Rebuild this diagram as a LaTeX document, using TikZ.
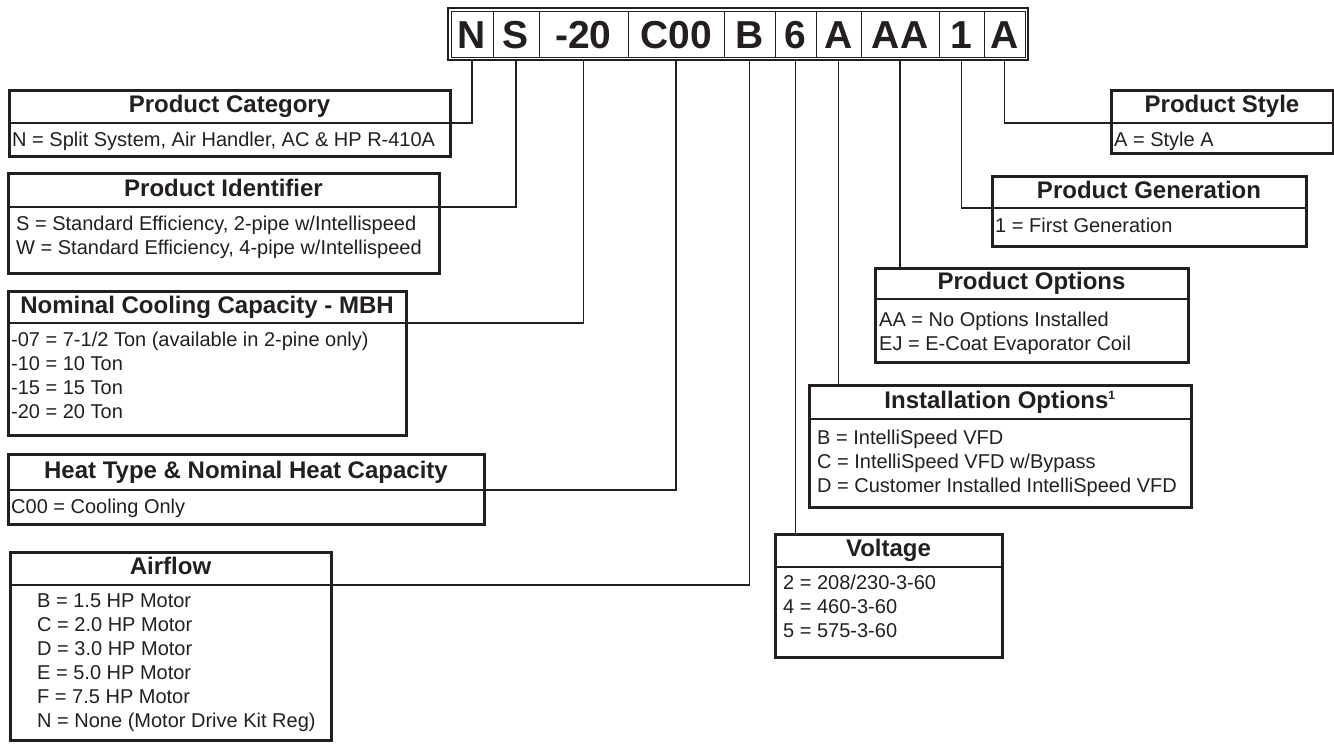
\documentclass[tikz,border=0pt]{standalone}
\usepackage{fontspec}
\setmainfont{Liberation Sans}
\usepackage{tikz}
\usetikzlibrary{positioning,fit}
\definecolor{ink}{RGB}{35,31,32}
\tikzstyle{cell} = [draw=ink, line width=1pt, minimum height=46pt, inner sep=0pt, outer sep=0pt, text height=28pt, text depth=0pt, font=\fontsize{39}{39}\selectfont\bfseries]
\tikzstyle{codeframe} = [draw=ink, line width=2.5pt, inner sep=3pt]
\tikzstyle{frame} = [draw=ink, line width=3pt, inner sep=0pt, outer sep=0pt]
\tikzstyle{hdr} = [inner sep=0pt, outer sep=0pt, text height=17.5pt, text depth=5pt, font=\fontsize{24}{28}\selectfont\bfseries]
\tikzstyle{txt} = [inner sep=0pt, align=left, font=\fontsize{20}{24}\selectfont]
\tikzstyle{divline} = [ink, line width=1.2pt]
\tikzstyle{lead} = [ink, line width=1.5pt]

\begin{document}
\begin{tikzpicture}[x=1pt, y=-1pt, text=ink]
        \useasboundingbox (0,0) rectangle (1334,744);
        % model number
        \node[cell, minimum width=42pt] (cN) at (472,34) {N};
        \node[cell, minimum width=46pt, right=0pt of cN] (cS) {S};
        \node[cell, minimum width=89pt, right=0pt of cS] (c20) {-20};
        \node[cell, minimum width=96pt, right=0pt of c20] (cC) {C00};
        \node[cell, minimum width=51pt, right=0pt of cC] (cB) {B};
        \node[cell, minimum width=41pt, right=0pt of cB] (c6) {6};
        \node[cell, minimum width=45pt, right=0pt of c6] (cA) {A};
        \node[cell, minimum width=78pt, right=0pt of cA] (cAA) {AA};
        \node[cell, minimum width=45pt, right=0pt of cAA] (c1) {1};
        \node[cell, minimum width=41pt, right=0pt of c1] (cA2) {A};
        \node[codeframe, fit=(cN)(cA2)] (code) {};
        % left column
        \node[frame, minimum width=441pt, minimum height=66pt] (cat) at (229.5,123) {};
        \node[hdr, minimum width=441pt, minimum height=33pt, below=0pt of cat.north] (cathd) {Product Category};
        \draw[divline] (cathd.south west) -- (cathd.south east);
        \node[txt, below right=6.4pt and 3pt of cathd.south west] (catbd) {\strut N = Split System, Air Handler, AC \& HP R-410A};

        \node[frame, minimum width=431pt, minimum height=100pt] (id) at (223.5,223) {};
        \node[hdr, minimum width=431pt, minimum height=34pt, below=0pt of id.north] (idhd) {Product Identifier};
        \draw[divline] (idhd.south west) -- (idhd.south east);
        \node[txt, below right=6.4pt and 8pt of idhd.south west] (idbd) {\strut S = Standard Efficiency, 2-pipe w/Intellispeed\\W = Standard Efficiency, 4-pipe w/Intellispeed};

        \node[frame, minimum width=398pt, minimum height=144pt] (nom) at (207,363) {};
        \node[hdr, minimum width=398pt, minimum height=32pt, below=0pt of nom.north] (nomhd) {Nominal Cooling Capacity - MBH};
        \draw[divline] (nomhd.south west) -- (nomhd.south east);
        \node[txt, below right=6.4pt and 3pt of nomhd.south west] (nombd) {\strut -07 = 7-1/2 Ton (available in 2-pine only)\\-10 = 10 Ton\\-15 = 15 Ton\\-20 = 20 Ton};

        \node[frame, minimum width=476pt, minimum height=70pt] (heat) at (246,489) {};
        \node[hdr, minimum width=476pt, minimum height=36pt, below=0pt of heat.north] (heathd) {Heat Type \& Nominal Heat Capacity};
        \draw[divline] (heathd.south west) -- (heathd.south east);
        \node[txt, below right=6.4pt and 3pt of heathd.south west] (heatbd) {\strut C00 = Cooling Only};

        \node[frame, minimum width=321pt, minimum height=188pt] (air) at (170.5,646) {};
        \node[hdr, minimum width=321pt, minimum height=33pt, below=0pt of air.north] (airhd) {Airflow};
        \draw[divline] (airhd.south west) -- (airhd.south east);
        \node[txt, below right=5.4pt and 27pt of airhd.south west] (airbd) {\strut B = 1.5 HP Motor\\C = 2.0 HP Motor\\D = 3.0 HP Motor\\E = 5.0 HP Motor\\F = 7.5 HP Motor\\N = None (Motor Drive Kit Reg)};
        % right column
        \node[frame, minimum width=222pt, minimum height=63pt] (style) at (1222,121.5) {};
        \node[hdr, minimum width=222pt, minimum height=33pt, below=0pt of style.north] (stylehd) {Product Style};
        \draw[divline] (stylehd.south west) -- (stylehd.south east);
        \node[txt, below right=6.4pt and 3pt of stylehd.south west] (stylebd) {\strut A = Style A};

        \node[frame, minimum width=314pt, minimum height=70pt] (gen) at (1149,211) {};
        \node[hdr, minimum width=314pt, minimum height=32pt, below=0pt of gen.north] (genhd) {Product Generation};
        \draw[divline] (genhd.south west) -- (genhd.south east);
        \node[txt, below right=7.4pt and 3pt of genhd.south west] (genbd) {\strut 1 = First Generation};

        \node[frame, minimum width=313pt, minimum height=94pt] (opt) at (1031.5,315) {};
        \node[hdr, minimum width=313pt, minimum height=31pt, below=0pt of opt.north] (opthd) {Product Options};
        \draw[divline] (opthd.south west) -- (opthd.south east);
        \node[txt, below right=10.4pt and 4pt of opthd.south west] (optbd) {\strut AA = No Options Installed\\EJ = E-Coat Evaporator Coil};

        \node[frame, minimum width=382pt, minimum height=122pt] (inst) at (1000,446) {};
        \node[hdr, minimum width=382pt, minimum height=34pt, below=0pt of inst.north] (insthd) {Installation Options\textsuperscript{\fontsize{12}{12}\selectfont 1}};
        \draw[divline] (insthd.south west) -- (insthd.south east);
        \node[txt, below right=8.4pt and 8pt of insthd.south west] (instbd) {\strut B = IntelliSpeed VFD\\C = IntelliSpeed VFD w/Bypass\\D = Customer Installed IntelliSpeed VFD};

        \node[frame, minimum width=227pt, minimum height=123pt] (volt) at (888.5,595.5) {};
        \node[hdr, minimum width=227pt, minimum height=33pt, below=0pt of volt.north] (volthd) {Voltage};
        \draw[divline] (volthd.south west) -- (volthd.south east);
        \node[txt, below right=5.4pt and 8pt of volthd.south west] (voltbd) {\strut 2 = 208/230-3-60\\4 = 460-3-60\\5 = 575-3-60};
        % leaders
        \draw[lead] (cN.south |- code.south) |- (cathd.south east);
        \draw[lead] (cS.south |- code.south) |- (idhd.south east);
        \draw[lead] (c20.south |- code.south) |- (nomhd.south east);
        \draw[lead] (cC.south |- code.south) |- (heathd.south east);
        \draw[lead] (cB.south |- code.south) |- (airhd.south east);
        \draw[lead] (c6.south |- code.south) -- (c6.south |- volt.north);
        \draw[lead] (cA.south |- code.south) -- (cA.south |- inst.north);
        \draw[lead] (cAA.south |- code.south) -- (cAA.south |- opt.north);
        \draw[lead] (c1.south |- code.south) |- (genhd.south west);
        \draw[lead] (cA2.south |- code.south) |- (stylehd.south west);
    \end{tikzpicture}
\end{document}
